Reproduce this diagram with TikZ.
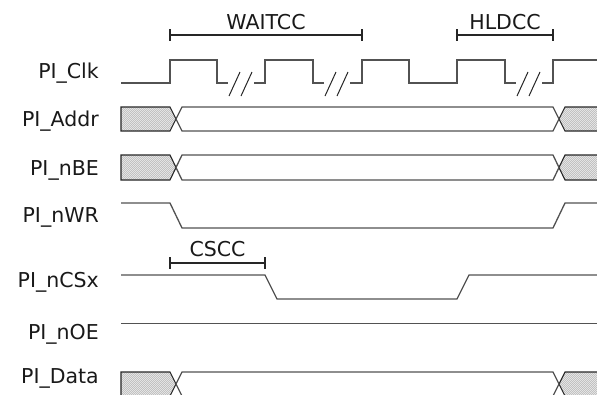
\documentclass[tikz,border=0pt]{standalone}
\usepackage{fontspec}
\setmainfont{DejaVu Sans}
\usetikzlibrary{patterns}
\pgfdeclarepatternformonly{finehatch}{\pgfqpoint{-1pt}{-1pt}}{\pgfqpoint{3pt}{3pt}}{\pgfqpoint{2pt}{2pt}}{%
  \pgfsetlinewidth{0.45pt}%
  \pgfpathmoveto{\pgfqpoint{0pt}{0pt}}%
  \pgfpathlineto{\pgfqpoint{2.1pt}{2.1pt}}%
  \pgfusepath{stroke}}
\begin{document}
\begin{tikzpicture}[x=1pt,y=-1pt,
  sig/.style={draw=black!68, line width=1.3pt, line join=miter},
  busline/.style={draw=black!85, line width=1.1pt},
  hatchfill/.style={fill=black!6},
  hatchpat/.style={pattern=finehatch, pattern color=black!28},
  brk/.style={draw=black!85, line width=1pt},
  brkt/.style={draw=black!85, line width=1.1pt},
  lbl/.style={anchor=base east, inner sep=0pt, font=\fontsize{20.5}{24}\selectfont, text=black!90},
  tlbl/.style={anchor=base, inner sep=0pt, font=\fontsize{20.5}{24}\selectfont, text=black!90}]
\useasboundingbox (0,0) rectangle (597,394);
\clip (0,0) rectangle (597,394);

% labels
\node[lbl] (lclk)  at (99,78)  {PI\_Clk};
\node[lbl] (laddr) at (99,126) {PI\_Addr};
\node[lbl] (lnbe)  at (99,175) {PI\_nBE};
\node[lbl] (lnwr)  at (99,222) {PI\_nWR};
\node[lbl] (lncs)  at (99,287) {PI\_nCSx};
\node[lbl] (lnoe)  at (99,339) {PI\_nOE};
\node[lbl] (ldata) at (99,383) {PI\_Data};

% brackets
\draw[brkt] (170,35) -- (362,35) (170,29) -- (170,41) (362,29) -- (362,41);
\node[tlbl] (twait) at (266,29) {WAITCC};
\draw[brkt] (457,35) -- (553,35) (457,29) -- (457,41) (553,29) -- (553,41);
\node[tlbl] (thld) at (505,29) {HLDCC};
\draw[brkt] (170,263) -- (265,263) (170,257) -- (170,269) (265,257) -- (265,269);
\node[tlbl] (tcs) at (217.5,256) {CSCC};

% clock
\draw[sig] (121,83) -- (170,83) -- (170,60) -- (217,60) -- (217,83) -- (228,83);
\draw[sig] (254,83) -- (265,83) -- (265,60) -- (313,60) -- (313,83) -- (324,83);
\draw[sig] (350,83) -- (362,83) -- (362,60) -- (409,60) -- (409,83) -- (457,83) -- (457,60) -- (505,60) -- (505,83) -- (516,83);
\draw[sig] (542,83) -- (553,83) -- (553,60) -- (600,60);
\draw[brk] (229,96) -- (240,72) (241,96) -- (252,72);
\draw[brk] (325,96) -- (336,72) (337,96) -- (348,72);
\draw[brk] (517,96) -- (528,72) (529,96) -- (540,72);

% bus rows
\foreach \t/\b in {107/131, 155/180, 372/396} {
  \pgfmathsetmacro{\m}{(\t+\b)/2}
  \path[hatchfill] (110,\t) -- (170,\t) -- (176,\m) -- (170,\b) -- (110,\b) -- cycle;
  \path[hatchpat] (110,\t) -- (170,\t) -- (176,\m) -- (170,\b) -- (110,\b) -- cycle;
  \path[hatchfill] (559,\m) -- (565,\t) -- (600,\t) -- (600,\b) -- (565,\b) -- cycle;
  \path[hatchpat] (559,\m) -- (565,\t) -- (600,\t) -- (600,\b) -- (565,\b) -- cycle;
  \path[fill=white] (110,\t-2) rectangle (120.5,\b+2);
  \draw[busline] (121,\t) -- (170,\t) -- (176,\m) -- (170,\b) -- (121,\b) -- cycle;
  \draw[busline] (600,\t) -- (565,\t) -- (559,\m) -- (565,\b) -- (600,\b);
  \draw[sig] (176,\m) -- (182,\t) -- (553,\t) -- (559,\m) -- (553,\b) -- (182,\b) -- cycle;
}

% nWR, nCSx, nOE
\draw[sig] (121,203) -- (170,203) -- (182,228) -- (553,228) -- (565,203) -- (600,203);
\draw[sig] (121,275) -- (265,275) -- (277,299) -- (457,299) -- (469,275) -- (600,275);
\draw[sig] (121,323.5) -- (600,323.5);
\end{tikzpicture}
\end{document}
